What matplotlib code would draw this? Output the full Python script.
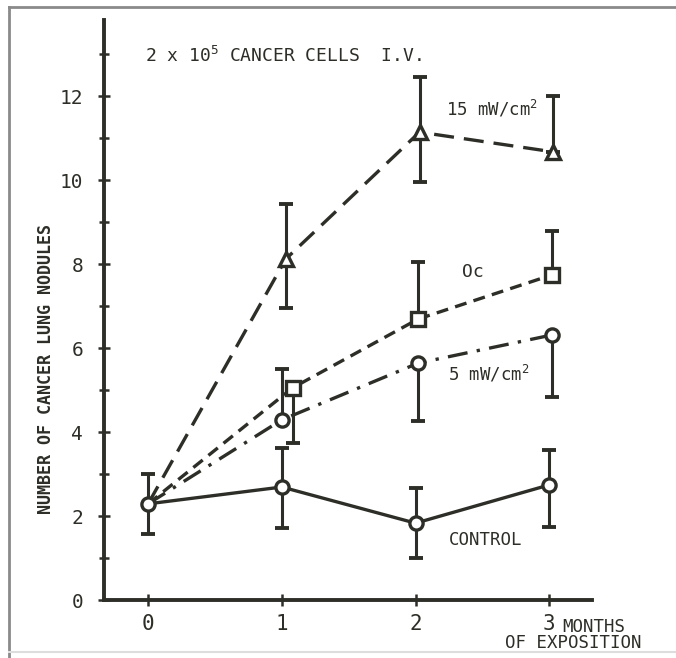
import matplotlib
matplotlib.use('Agg')
import matplotlib.pyplot as plt
from matplotlib.lines import Line2D

plt.rcParams['font.family'] = ['DejaVu Sans Mono']
plt.rcParams['mathtext.default'] = 'regular'

INK = '#2e2e28'

# groups: months of exposition, mean nodules, lower / upper error
x_control = [0, 1, 2, 3]
y_control = [2.29, 2.69, 1.83, 2.74]
lo_control = [0.72, 0.98, 0.83, 1.0]
hi_control = [0.71, 0.93, 0.84, 0.83]

x_15mw = [0, 1.03, 2.03, 3.03]
y_15mw = [2.29, 8.12, 11.14, 10.67]
lo_15mw = [0, 1.17, 1.19, 0]
hi_15mw = [0, 1.31, 1.31, 1.33]

x_oc = [0, 1.08, 2.02, 3.02]
y_oc = [2.29, 5.05, 6.69, 7.74]
lo_oc = [0, 1.3, 0, 0]
hi_oc = [0, 0, 1.36, 1.05]

x_5mw = [0, 1.0, 2.02, 3.02]
y_5mw = [2.29, 4.29, 5.64, 6.31]
lo_5mw = [0, 0, 1.38, 1.48]
hi_5mw = [0, 1.21, 0, 0]

y_ticks = [0, 2, 4, 6, 8, 10, 12]
y_minor = [1, 3, 5, 7, 9, 11, 13]
x_ticks = [0, 1, 2, 3]

fig = plt.figure(figsize=(6.76, 6.58), dpi=100)
ax = fig.add_axes([104 / 676, 1 - 600 / 658, 488 / 676, 580 / 658])

series = [
    (x_control, y_control, lo_control, hi_control, 'o', None),
    (x_15mw, y_15mw, lo_15mw, hi_15mw, '^', (6, 3)),
    (x_oc, y_oc, lo_oc, hi_oc, 's', (3.6, 2.2)),
    (x_5mw, y_5mw, lo_5mw, hi_5mw, 'o', (6, 2.8, 1, 2.8)),
]
for xs, ys, lo, hi, mk, dashes in series:
    ax.errorbar(xs, ys, yerr=[lo, hi], fmt='none', ecolor=INK, elinewidth=2.2,
                capsize=4.8, capthick=2.8, zorder=2)
    line, = ax.plot(xs, ys, color=INK, lw=2.4, zorder=3)
    if dashes:
        line.set_dashes(dashes)
    ax.plot(xs[1:], ys[1:], linestyle='none', marker=mk, markersize=9.5,
            markerfacecolor='white', markeredgecolor=INK, markeredgewidth=2.4, zorder=4)
# shared starting point
ax.plot(x_control[:1], y_control[:1], linestyle='none', marker='o', markersize=9.5,
        markerfacecolor='white', markeredgecolor=INK, markeredgewidth=2.4, zorder=5)

ax.set_xlim(-0.33, 3.32)
ax.set_ylim(0, 13.81)
ax.spines['top'].set_visible(False)
ax.spines['right'].set_visible(False)
for s in ['left', 'bottom']:
    ax.spines[s].set_linewidth(2.8)
    ax.spines[s].set_color(INK)
ax.set_xticks(x_ticks)
ax.set_yticks(y_ticks)
ax.set_yticks(y_minor, minor=True)
ax.tick_params(axis='x', direction='inout', length=8, width=1.8, colors=INK,
               labelsize=15, pad=6)
ax.tick_params(axis='y', direction='inout', length=8, width=1.8, colors=INK,
               labelsize=14, pad=11)
ax.tick_params(axis='y', which='minor', direction='inout', length=7, width=1.8, colors=INK)

ax.set_ylabel('NUMBER OF CANCER LUNG NODULES', fontsize=12, color=INK,
              fontweight='bold')
ax.yaxis.set_label_coords((55 - 104) / 488, 1 - (369 - 20) / 580)

ax.text(-0.025, 12.95, r'2 x 10$^5$ CANCER CELLS  I.V.', fontsize=13, color=INK,
        va='center')
ax.text(2.23, 11.7, r'15 mW/cm$^2$', fontsize=12.5, color=INK, va='center')
ax.text(2.35, 7.8, 'Oc', fontsize=13, color=INK, va='center')
ax.text(2.24, 5.38, r'5 mW/cm$^2$', fontsize=12.5, color=INK, va='center')
ax.text(2.25, 1.43, 'CONTROL', fontsize=12.5, color=INK, va='center')
ax.text(3.10, -0.64, 'MONTHS', fontsize=12.5, color=INK, va='center', clip_on=False)
ax.text(2.67, -1.03, 'OF EXPOSITION', fontsize=12.5, color=INK, va='center', clip_on=False)

# scanned page frame
fig.lines.append(Line2D([9 / 676, 9 / 676], [0, 1 - 7 / 658], transform=fig.transFigure,
                        color='#8a8a8a', lw=2))
fig.lines.append(Line2D([9 / 676, 1], [1 - 7 / 658, 1 - 7 / 658], transform=fig.transFigure,
                        color='#8a8a8a', lw=2))
fig.lines.append(Line2D([9 / 676, 1], [1 - 652 / 658, 1 - 652 / 658], transform=fig.transFigure,
                        color='#dddddd', lw=1.5))

fig.savefig('out.png', dpi=100)
